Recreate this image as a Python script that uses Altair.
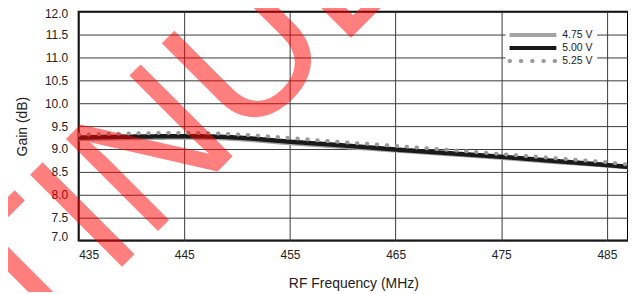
import altair as alt
import pandas as pd

# ---------------- data ----------------
freq = [435, 440, 445, 448, 450, 455, 460, 465, 470, 475, 480, 485, 487]
gain_475 = [9.22, 9.24, 9.25, 9.24, 9.22, 9.13, 9.05, 8.97, 8.89, 8.81, 8.72, 8.64, 8.60]
gain_500 = [9.25, 9.27, 9.28, 9.27, 9.25, 9.16, 9.08, 8.99, 8.91, 8.83, 8.74, 8.65, 8.61]
gain_525 = [9.31, 9.34, 9.35, 9.34, 9.32, 9.24, 9.15, 9.07, 8.98, 8.89, 8.80, 8.71, 8.66]
series = ["4.75 V", "5.00 V", "5.25 V"]
x_ticks = [435, 445, 455, 465, 475, 485]
y_ticks = [7.0, 7.5, 8.0, 8.5, 9.0, 9.5, 10.0, 10.5, 11.0, 11.5, 12.0]
x_title = "RF Frequency (MHz)"
y_title = "Gain (dB)"
watermark = "DISCONTINUED"

# ---------------- styles ----------------
FONT = "Liberation Sans, Arial, sans-serif"
colors = ["#a3a3a3", "#1a1a1a", "#9a9a9a"]
widths = [4.5, 4.5, 4]
dashes = [[1, 0], [1, 0], [0.5, 9.5]]
caps = ["butt", "butt", "round"]
legend_dashes = [[1, 0], [1, 0], [0.5, 10.8]]

rows = []
for s, g in zip(series, [gain_475, gain_500, gain_525]):
    for f, v in zip(freq, g):
        rows.append({"freq": f, "gain": v, "series": s})
df = pd.DataFrame(rows)

base = alt.Chart(df).encode(
    x=alt.X("freq:Q", scale=alt.Scale(domain=[435, 487], nice=False, zero=False),
            axis=alt.Axis(values=x_ticks, title=x_title, format="d")),
    y=alt.Y("gain:Q", scale=alt.Scale(domain=[7, 12], nice=False, zero=False),
            axis=alt.Axis(values=y_ticks, title=y_title, format=".1f",
                          labelFlush=True, labelFlushOffset=3)),
)

layers = []
for s, c, w, d, cap in zip(series, colors, widths, dashes, caps):
    layers.append(
        base.transform_filter(alt.datum.series == s).mark_line(
            color=c, strokeWidth=w, strokeDash=d, strokeCap=cap, interpolate="monotone"
        )
    )

one = pd.DataFrame({"k": [0]})
layers.append(
    alt.Chart(one).mark_rect(color="white").encode(
        x=alt.value(429), x2=alt.value(521), y=alt.value(17), y2=alt.value(55)
    )
)
for i, (s, c, d, cap) in enumerate(zip(series, colors, legend_dashes, caps)):
    yy = 23.5 + 13 * i
    lab = pd.DataFrame({"s": [s]})
    layers.append(
        alt.Chart(lab).mark_rule(color=c, strokeWidth=4, strokeDash=d, strokeCap=cap).encode(
            x=alt.value(433), x2=alt.value(480), y=alt.value(yy)
        )
    )
    layers.append(
        alt.Chart(lab).mark_text(align="left", baseline="middle", fontSize=10.5,
                                 font=FONT, color="#222").encode(
            x=alt.value(486), y=alt.value(yy), text="s:N"
        )
    )

wm = pd.DataFrame({"t": [watermark]})
layers.append(
    alt.Chart(wm).mark_text(angle=315, fontSize=190, font=FONT, color="#ff0000",
                            opacity=0.5, align="center", baseline="alphabetic").encode(
        x=alt.value(-62), y=alt.value(362), text="t:N"
    )
)

chart = alt.layer(*layers).properties(
    width=552, height=230,
    autosize=alt.AutoSizeParams(type="none"),
    padding={"left": 71, "top": 3, "right": 0, "bottom": 51},
).configure_view(
    stroke="black", strokeWidth=2
).configure_axis(
    grid=True, gridColor="#3a3a3a", gridWidth=1, gridOpacity=1,
    domain=False, ticks=False, tickSize=0,
    labelFont=FONT, labelFontSize=12, labelColor="#222",
    titleFont=FONT, titleFontSize=14, titleFontWeight="normal", titleColor="#222",
).configure_axisX(
    labelPadding=9, titlePadding=16
).configure_axisY(
    labelPadding=11, titlePadding=15
)

chart.save("out.html", embed_options={"renderer": "svg", "actions": False})
